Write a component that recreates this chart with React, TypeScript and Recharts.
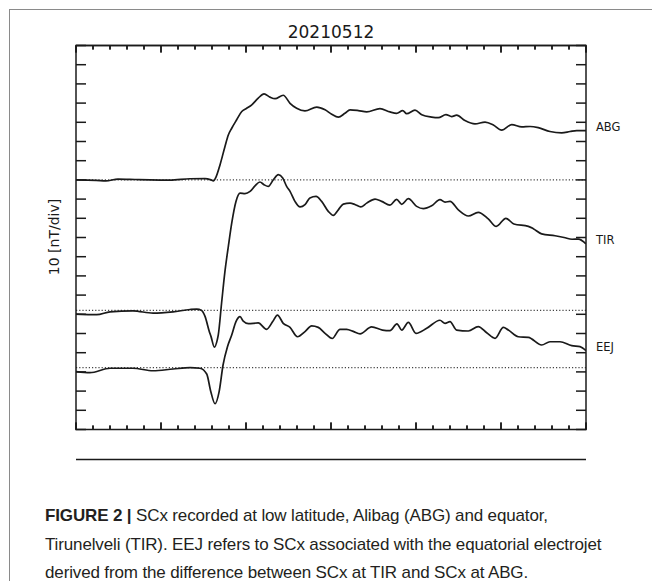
import { LineChart, Line, XAxis, YAxis, ReferenceLine, Label } from 'recharts';

// time in minutes after 06:30 UT, values in nT relative to the quiet level
const abgTime = [0, 1.18, 1.76, 2.47, 3.47, 4.35, 5.53, 6.71, 7.59, 7.94, 8.08, 8.24, 8.47, 8.76, 8.96, 9.16, 9.45, 9.75, 10.04, 10.34, 10.72, 11.06, 11.41, 11.71, 12.19, 12.59, 12.98, 13.47, 14.16, 14.65, 15.04, 15.43, 15.82, 16.12, 16.61, 17.1, 17.88, 18.47, 18.86, 19.22, 19.45, 19.94, 20.34, 20.92, 21.31, 21.76, 22.1, 22.39, 22.88, 23.47, 24.06, 24.55, 25.04, 25.63, 26.22, 26.71, 27.19, 27.88, 28.57, 29.06, 29.45, 30];
const abgValue = [0, -0.2, -0.5, 0.4, 0.2, 0, -0.1, 0.6, 0.7, 0, -0.5, 1.6, 7.8, 17.3, 23.4, 26.9, 31.3, 35.6, 37.3, 39.1, 42.6, 44.8, 43.1, 42.3, 44.1, 39.9, 37.3, 35.9, 37.9, 36.5, 34.2, 32.7, 34.7, 36.5, 36.1, 35.4, 37.1, 35.4, 34.7, 36.1, 34.5, 36.3, 33.9, 32.7, 32.4, 34.0, 33.0, 33.7, 30.9, 29.2, 30.1, 28.6, 25.9, 28.8, 27.6, 27.8, 27.2, 25.2, 24.5, 25.2, 25.7, 25.7];

const tirTime = [0, 1.22, 2.0, 3.35, 4.53, 5.71, 6.71, 7.1, 7.39, 7.59, 7.84, 7.94, 8.14, 8.31, 8.37, 8.56, 8.76, 8.96, 9.16, 9.41, 9.65, 9.94, 10.24, 10.53, 10.82, 11.06, 11.31, 11.61, 11.9, 12.16, 12.39, 12.59, 12.88, 13.18, 13.47, 13.76, 14.12, 14.45, 14.84, 15.14, 15.43, 15.72, 16.12, 16.41, 16.75, 17.1, 17.59, 17.98, 18.47, 18.86, 19.16, 19.55, 20.04, 20.43, 20.92, 21.41, 21.71, 22.0, 22.49, 23.08, 23.66, 24.25, 24.72, 25.29, 25.76, 26.61, 26.9, 27.39, 28.18, 28.71, 29.18, 29.55, 30];
const tirValue = [-1.9, -2.2, -0.7, -0.2, -1.4, -0.7, 0.5, 0.7, 0, -3.1, -10.9, -13.5, -19.1, -15.3, -12.7, 3.5, 20.2, 33.3, 45.5, 56.8, 61.1, 60.8, 62.0, 64.9, 66.9, 65.5, 64.6, 68.1, 70.7, 69.0, 64.6, 62.0, 56.8, 53.9, 55.1, 58.6, 59.4, 56.8, 51.6, 49.5, 52.4, 55.4, 55.9, 55.2, 53.9, 55.9, 58.0, 56.8, 54.9, 57.9, 55.3, 58.2, 54.2, 53.0, 54.5, 57.7, 56.4, 56.8, 52.4, 49.2, 51.1, 47.7, 43.8, 48.0, 45.0, 43.8, 42.6, 39.9, 38.9, 38.0, 37.1, 37.2, 34.7];

const eejTime = [0, 0.82, 2.0, 3.35, 4.53, 5.71, 6.71, 7.29, 7.69, 7.92, 8.18, 8.42, 8.65, 8.91, 9.16, 9.41, 9.65, 9.84, 10.14, 10.72, 11.21, 11.57, 11.85, 12.19, 12.59, 13.03, 13.47, 13.86, 14.25, 14.65, 15.07, 15.53, 15.92, 16.31, 16.71, 17.39, 18.03, 18.47, 18.88, 19.16, 19.55, 20.0, 20.63, 21.41, 21.71, 22.0, 22.39, 23.08, 23.66, 24.16, 24.65, 25.14, 25.43, 26.02, 26.61, 27.39, 27.88, 28.47, 29.16, 29.65, 30];
const eejValue = [-2.1, -2.6, -0.3, -0.3, -1.6, -0.7, 0, -0.3, -3.3, -12.1, -18.8, -12.5, 1.4, 10.9, 17.0, 24.0, 26.6, 24.2, 22.9, 23.3, 20.0, 24.0, 27.4, 23.1, 21.0, 16.1, 18.8, 21.8, 21.0, 17.9, 15.2, 20.0, 19.9, 18.9, 17.6, 21.2, 19.6, 19.3, 22.8, 19.6, 23.6, 17.9, 20.5, 24.7, 23.1, 24.0, 19.6, 19.1, 21.4, 18.2, 15.3, 21.0, 19.6, 16.1, 15.8, 11.8, 13.5, 13.5, 11.5, 11.0, 8.9];

// stacking offsets (nT) used to separate the traces
const ABG_OFFSET = 130;
const TIR_OFFSET = 62;
const EEJ_OFFSET = 32.2;

const majorTicks = [0, 5, 10, 15, 20, 25, 30];
const timeLabels = ['06:30', '06:35', '06:40', '06:45', '06:50', '06:55', '07:00'];
const minorTicks = Array.from({ length: 31 }, (_, i) => i);
const yTicks = Array.from({ length: 21 }, (_, i) => i * 10);
const Y_MAX = 200;

const abgData = abgTime.map((t, i) => ({ t, v: abgValue[i] + ABG_OFFSET }));
const tirData = tirTime.map((t, i) => ({ t, v: tirValue[i] + TIR_OFFSET }));
const eejData = eejTime.map((t, i) => ({ t, v: eejValue[i] + EEJ_OFFSET }));

// inward time ticks along the bottom and top frame (length in nT, 1.92 px per nT)
const tickLen = (t: number) => (majorTicks.includes(t) ? 3.6 : 2.1);
const bottomComb = minorTicks.flatMap((t) => [{ t, v: 0 }, { t, v: tickLen(t) }, { t, v: 0 }]);
const topComb = minorTicks.flatMap((t) => [{ t, v: Y_MAX }, { t, v: Y_MAX - tickLen(t) }, { t, v: Y_MAX }]);

const FONT = "'DejaVu Sans', sans-serif";
const INK = '#1a1a1a';
const TINY = 0.001; // axes with zero size are skipped by recharts

const endLabel = (name: string, count: number) => (p: any) => {
  if (p.index !== count - 1) return null;
  const x = p.viewBox?.x ?? p.x;
  const y = p.viewBox?.y ?? p.y;
  return (
    <text x={x + 10} y={y - 3.5} dominantBaseline="central" fontFamily={FONT} fontSize={11.5} fill={INK}>
      {name}
    </text>
  );
};

// tick marks only, no text
const noText = () => '';
const hiddenTick = { fill: 'none', fontSize: 1 };

export default function App() {
  const axisStroke = { stroke: INK, strokeWidth: 1.5 };
  const frameY = { type: 'number' as const, domain: [0, Y_MAX], ticks: yTicks, allowDataOverflow: true, mirror: true, width: TINY,
    tick: hiddenTick, tickFormatter: noText, tickSize: 10, axisLine: axisStroke, tickLine: axisStroke, interval: 0 as const };
  return (
    <div style={{ position: 'absolute', left: 0, top: 0, width: 652, height: 581, background: '#fff', overflow: 'hidden' }}>
      <div style={{ position: 'absolute', left: 9, top: 9, right: 0, bottom: 0, borderTop: '1px solid #8a8a8a', borderLeft: '1px solid #8a8a8a' }} />
      <div style={{ position: 'absolute', left: 0, top: 0 }}>
        <LineChart width={652} height={470} margin={{ top: 45.5, right: 66, bottom: 40.5, left: 76 }}>
          <XAxis xAxisId="lab" type="number" dataKey="t" domain={[0, 30]} allowDataOverflow ticks={majorTicks} orientation="bottom" height={TINY}
            tickSize={0} tickMargin={10.5} axisLine={axisStroke} tickLine={false} interval={0}
            tickFormatter={(v: number) => timeLabels[majorTicks.indexOf(v)]}
            tick={{ fontFamily: FONT, fontSize: 14, fill: INK }}>
            <Label value="UT" position="bottom" offset={28.5} style={{ fontFamily: FONT, fontSize: 14, fill: INK }} />
          </XAxis>
          <XAxis xAxisId="top" type="number" dataKey="t" domain={[0, 30]} allowDataOverflow ticks={majorTicks} orientation="top" mirror height={TINY}
            tick={hiddenTick} tickFormatter={noText} tickLine={false} axisLine={axisStroke} interval={0}>
            <Label value="20210512" position="top" offset={7.5} style={{ fontFamily: FONT, fontSize: 17, fill: INK }} />
          </XAxis>
          {/* unclipped axes for the tick combs */}
          <XAxis xAxisId="comb" type="number" dataKey="t" domain={[0, 30]} hide />
          <YAxis yAxisId="comb" type="number" domain={[0, Y_MAX]} hide />
          <YAxis yAxisId="l" orientation="left" {...frameY} />
          <YAxis yAxisId="r" orientation="right" {...frameY} />

          {[ABG_OFFSET, TIR_OFFSET, EEJ_OFFSET].map((y) => (
            <ReferenceLine key={y} y={y} xAxisId="lab" yAxisId="l" stroke="#444" strokeWidth={1.2} strokeDasharray="1.2 2" />
          ))}

          {minorTicks.map((t) => (
            <ReferenceLine key={`rb${t}`} segment={[{ x: t, y: 0 }, { x: t, y: tickLen(t) }]} xAxisId="comb" yAxisId="comb"
              ifOverflow="visible" stroke={INK} strokeWidth={1.5} />
          ))}
          {minorTicks.map((t) => (
            <ReferenceLine key={`rt${t}`} segment={[{ x: t, y: Y_MAX }, { x: t, y: Y_MAX - tickLen(t) }]} xAxisId="comb" yAxisId="comb"
              ifOverflow="visible" stroke={INK} strokeWidth={1.5} />
          ))}

          <Line data={bottomComb} xAxisId="comb" yAxisId="comb" dataKey="v" type="linear" stroke={INK} strokeWidth={1.5}
            dot={false} activeDot={false} isAnimationActive={false} legendType="none" />
          <Line data={topComb} xAxisId="comb" yAxisId="comb" dataKey="v" type="linear" stroke={INK} strokeWidth={1.5}
            dot={false} activeDot={false} isAnimationActive={false} legendType="none" />

          <Line data={abgData} xAxisId="lab" yAxisId="l" dataKey="v" type="monotone" stroke={INK} strokeWidth={1.7}
            dot={false} activeDot={false} isAnimationActive={false} label={endLabel('ABG', abgData.length)} />
          <Line data={tirData} xAxisId="lab" yAxisId="l" dataKey="v" type="monotone" stroke={INK} strokeWidth={1.7}
            dot={false} activeDot={false} isAnimationActive={false} label={endLabel('TIR', tirData.length)} />
          <Line data={eejData} xAxisId="lab" yAxisId="l" dataKey="v" type="monotone" stroke={INK} strokeWidth={1.7}
            dot={false} activeDot={false} isAnimationActive={false} label={endLabel('EEJ', eejData.length)} />
        </LineChart>
      </div>
      <div style={{ position: 'absolute', left: 54, top: 237, transform: 'translate(-50%, -50%) rotate(-90deg)', whiteSpace: 'nowrap', fontFamily: FONT, fontSize: 14, color: INK }}>
        10 [nT/div]
      </div>
      <div style={{ position: 'absolute', left: 45, top: 502, whiteSpace: 'nowrap', fontFamily: "'Liberation Sans', Arial, sans-serif", fontSize: 17, letterSpacing: '-0.14px', lineHeight: '28.5px', color: '#231f20' }}>
        <b>FIGURE 2 |</b> SCx recorded at low latitude, Alibag (ABG) and equator,<br />
        Tirunelveli (TIR). EEJ refers to SCx associated with the equatorial electrojet<br />
        derived from the difference between SCx at TIR and SCx at ABG.
      </div>
    </div>
  );
}
